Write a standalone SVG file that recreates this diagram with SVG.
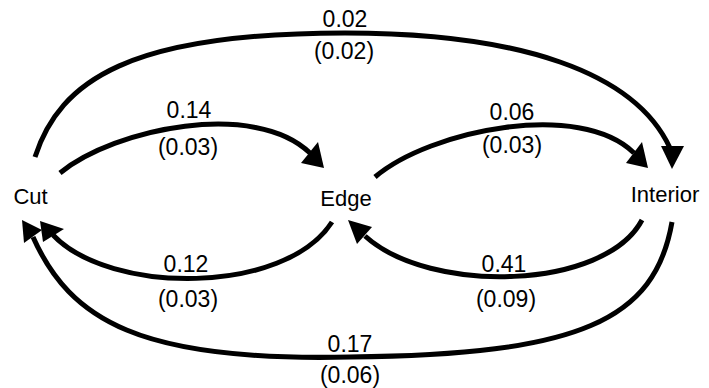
<svg xmlns="http://www.w3.org/2000/svg" width="709" height="388" viewBox="0 0 709 388">
<style>
.e{fill:none;stroke:#000;stroke-width:5}
.h{fill:#000;stroke:none}
text{font-family:"Liberation Sans",Arial,sans-serif;font-size:23px;fill:#000;text-anchor:middle}
.n{font-size:22px}
</style>
<rect width="709" height="388" fill="#fff"/>
<g id="connectors">
<g id="cut-interior">
<path class="e" d="M35,157 C60,80 130,33 345,33 C520,33 635,72 670,148"/>
<polygon class="h" points="672,169 661,146 684,146"/>
<text x="345" y="27">0.02</text><text x="344" y="59">(0.02)</text>
</g>
<g id="cut-edge">
<path class="e" d="M60,173 C115,128 255,100 310,153"/>
<polygon class="h" points="324,168 301,163 318,142"/>
<text x="189" y="118">0.14</text><text x="188" y="155">(0.03)</text>
</g>
<g id="edge-interior">
<path class="e" d="M375,177 C430,130 580,100 634,153"/>
<polygon class="h" points="648,168 626,163 642,142"/>
<text x="512" y="120">0.06</text><text x="512" y="153">(0.03)</text>
</g>
<g id="edge-cut">
<path class="e" d="M332,222 C285,295 110,295 53,235"/>
<polygon class="h" points="40,221 64,229 43,242"/>
<text x="186" y="272">0.12</text><text x="188" y="307">(0.03)</text>
</g>
<g id="interior-edge">
<path class="e" d="M642,220 C605,290 430,295 365,236"/>
<polygon class="h" points="348,220 372,227 357,244"/>
<text x="504" y="272">0.41</text><text x="506" y="307">(0.09)</text>
</g>
<g id="interior-cut">
<path class="e" d="M672,222 C655,320 580,355 350,357 C140,362 70,320 33,237"/>
<polygon class="h" points="22,220 42,230 24,243"/>
<text x="350" y="352">0.17</text><text x="350" y="383">(0.06)</text>
</g>
</g>
<g id="node-cut"><text class="n" x="30.5" y="204">Cut</text></g>
<g id="node-edge"><text class="n" x="346" y="206">Edge</text></g>
<g id="node-interior"><text class="n" x="665" y="202">Interior</text></g>
</svg>
